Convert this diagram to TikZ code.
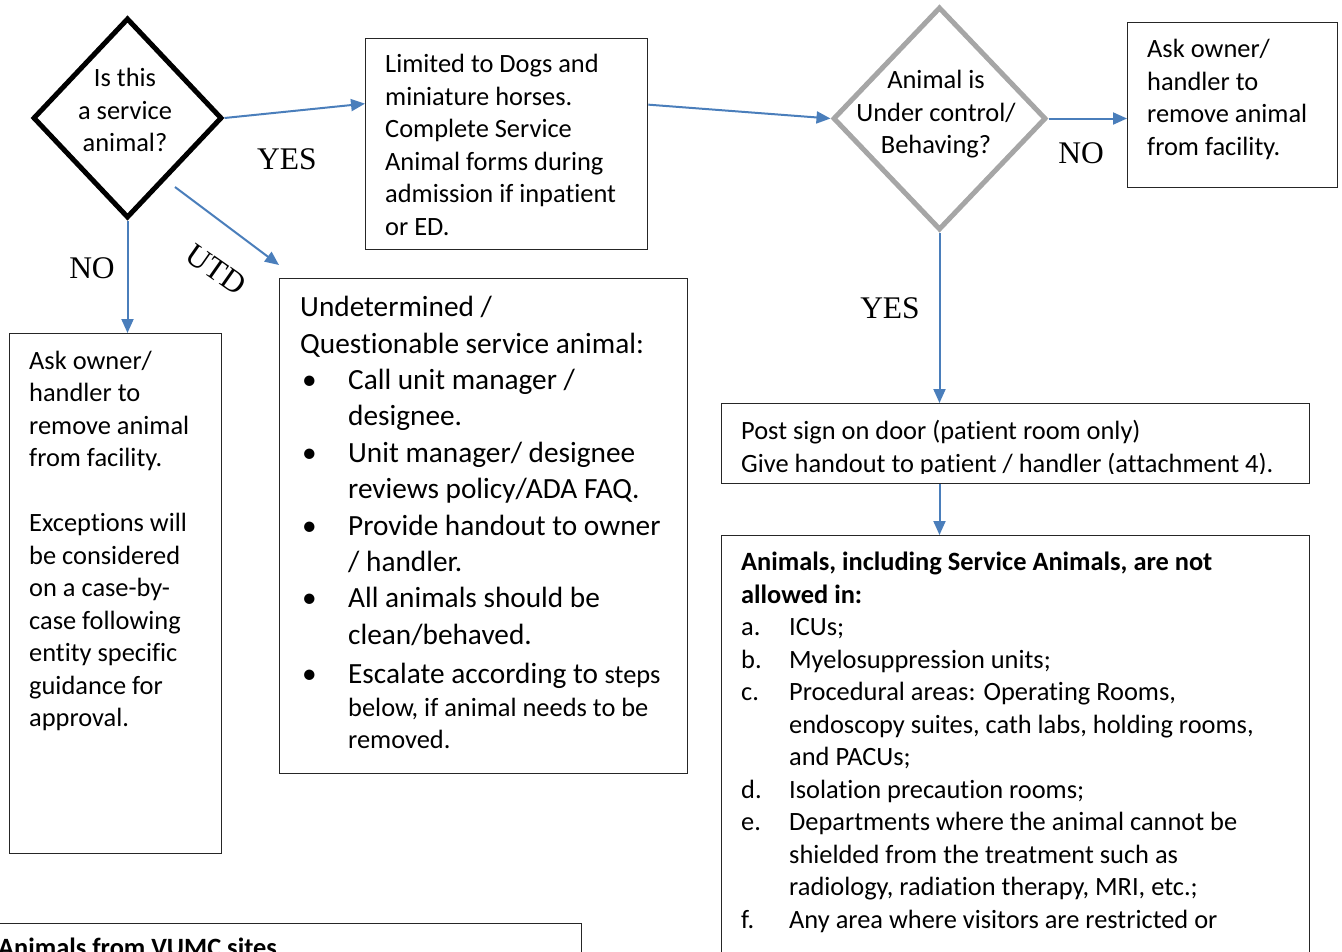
\documentclass[tikz,border=0pt]{standalone}
\usepackage{fontspec}
\setmainfont{Carlito}[Ligatures=NoCommon]
\newfontfamily\labelfont{Liberation Serif}
\usetikzlibrary{shapes.geometric,arrows.meta}
\definecolor{flowblue}{HTML}{4A7EBB}
\definecolor{querygray}{HTML}{A6A6A6}
\newcommand{\bodysize}{\fontsize{26.4}{32.5}\selectfont}
\newcommand{\bigsize}{\fontsize{29.3}{36.4}\selectfont}
\newcommand{\itemmark}[1]{\makebox[48pt][l]{#1}}
\newcommand{\itemgap}{\hspace*{48pt}}

\begin{document}
\begin{tikzpicture}[x=1pt, y=-1pt,
queryA/.style={diamond, draw=black, line width=5pt, inner sep=0pt},
queryB/.style={diamond, draw=querygray, line width=5pt, inner sep=0pt},
boxnode/.style={rectangle, draw=black!85, line width=1.3pt, anchor=north west, inner sep=0pt},
boxtext/.style={anchor=north west, inner sep=0pt, align=left, font=\bodysize},
qtext/.style={anchor=north, inner sep=0pt, align=center, font=\bodysize},
answer/.style={inner sep=0pt, font=\labelfont\fontsize{31.5}{36}\selectfont},
flow/.style={draw=flowblue, line width=2pt, -{Triangle[length=14pt,width=12pt]}}]

\useasboundingbox (0,0) rectangle (1342,951);

\node[queryA, minimum width=189pt, minimum height=200pt](serviceQuery) at (127.5,118) {};
\node[qtext](serviceText) at (125,63.75) {\strut Is this\\a service\\animal?};

\node[queryB, minimum width=213pt, minimum height=223pt](controlQuery) at (939.5,118.5) {};
\node[qtext](controlText) at (936,65.75) {\strut Animal is\\Under control/\\Behaving?};

\node[boxnode, minimum width=282pt, minimum height=211pt](limitedDogs) at (365,38) {};
\node[boxtext](limitedText) at (385,50) {\strut Limited to Dogs and\\miniature horses.\\Complete Service\\Animal forms during\\admission if inpatient\\or ED.};

\node[boxnode, minimum width=210pt, minimum height=165pt](askRight) at (1127,22) {};
\node[boxtext](askRightText) at (1147,34.75) {\strut Ask owner/\\handler to\\remove animal\\from facility.};

\node[boxnode, minimum width=212pt, minimum height=520pt](askLeft) at (9,333) {};
\node[boxtext](askLeftText) at (29,346.25) {\strut Ask owner/\\handler to\\remove animal\\from facility.\\[32.5pt]Exceptions will\\be considered\\on a case-by-\\case following\\entity specific\\guidance for\\approval.};

\node[boxnode, minimum width=408pt, minimum height=495pt](undetermined) at (279,278) {};
\node[boxtext, font=\bigsize](undeterminedText) at (300,291) {\strut Undetermined /\\Questionable service animal:\\
\itemmark{\hspace*{2pt}\textbullet}Call unit manager /\\\itemgap designee.\\
\itemmark{\hspace*{2pt}\textbullet}Unit manager/ designee\\\itemgap reviews policy/ADA FAQ.\\
\itemmark{\hspace*{2pt}\textbullet}Provide handout to owner\\\itemgap / handler.\\
\itemmark{\hspace*{2pt}\textbullet}All animals should be\\\itemgap clean/behaved.\\[2.6pt]
\itemmark{\hspace*{2pt}\textbullet}Escalate according to {\bodysize steps}\\[-3.4pt]\itemgap{\bodysize below, if animal needs to be}\\[-4.4pt]\itemgap{\bodysize removed.}};

\node[boxnode, minimum width=588pt, minimum height=80pt](postSign) at (721,403) {};
\begin{scope}
\clip (721,403) rectangle (1309,473);
\node[boxtext](postText) at (741,416.75) {\strut Post sign on door (patient room only)\\Give handout to patient / handler (attachment 4).};
\end{scope}

\node[boxnode, minimum width=588pt, minimum height=480pt](notAllowed) at (721,535) {};
\node[boxtext](notAllowedText) at (741,547.75) {\strut\textbf{Animals, including Service Animals, are not}\\\textbf{allowed in:}\\
\itemmark{a.}ICUs;\\
\itemmark{b.}Myelosuppression units;\\
\itemmark{c.}Procedural areas: Operating Rooms,\\\itemgap endoscopy suites, cath labs, holding rooms,\\\itemgap and PACUs;\\
\itemmark{d.}Isolation precaution rooms;\\
\itemmark{e.}Departments where the animal cannot be\\\itemgap shielded from the treatment such as\\\itemgap radiology, radiation therapy, MRI, etc.;\\
\itemmark{f.}Any area where visitors are restricted or};

\node[boxnode, minimum width=601pt, minimum height=100pt](vumcSites) at (-20,923) {};
\node[boxtext](vumcText) at (-2,934) {\strut\textbf{Animals from VUMC sites}};

\node[answer](yesService) at (287,159) {YES};
\node[answer](noService) at (92,268) {NO};
\node[answer, rotate=-35](utdService) at (216,270) {UTD};
\node[answer](noControl) at (1081,153) {NO};
\node[answer](yesControl) at (890,308) {YES};

\coordinate (utdStart) at (175,187);

\draw[flow](serviceQuery.east) -- ([yshift=40.5pt]limitedDogs.west);
\draw[flow]([yshift=39.5pt]limitedDogs.east) -- (controlQuery.west);
\draw[flow](controlQuery.east) -- (controlQuery.east -| askRight.west);
\draw[flow](serviceQuery.south) -- (serviceQuery.south |- askLeft.north);
\draw[flow](utdStart) -- ([yshift=13pt]undetermined.north west);
\draw[flow](controlQuery.south) -- (controlQuery.south |- postSign.north);
\draw[flow](controlQuery.south |- postSign.south) -- (controlQuery.south |- notAllowed.north);

\end{tikzpicture}
\end{document}
